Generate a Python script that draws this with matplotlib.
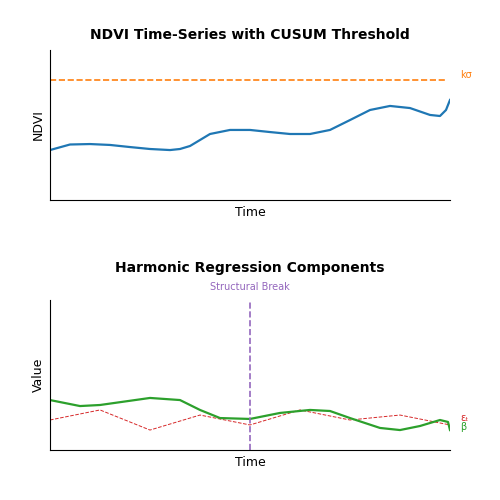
import numpy as np
import matplotlib
matplotlib.use('Agg')
import matplotlib.pyplot as plt

# top panel: NDVI series
t_ndvi = [0, .05, .1, .15, .2, .25, .3, .325, .35, .375, .4, .45, .5, .55, .6, .65,
          .7, .75, .8, .85, .9, .95, .975, .99, 1.0]
ndvi = [.333, .37, .373, .367, .353, .34, .333, .34, .36, .40, .44, .467, .467, .453,
        .44, .44, .467, .533, .60, .627, .613, .567, .56, .60, .667]
k_sigma = 0.8

# bottom panel: harmonic components
t_beta = [0, .075, .125, .25, .325, .375, .425, .5, .575, .65, .7, .75, .825, .875,
          .925, .975, .995, 1.0]
beta = [.333, .293, .30, .347, .333, .267, .213, .207, .247, .267, .26, .213, .147,
        .133, .16, .20, .187, .133]
t_eps = [0, .125, .25, .375, .5, .625, .75, .875, 1.0]
eps = [.20, .267, .133, .233, .167, .267, .20, .233, .167]
break_t = 0.5

fig = plt.figure(figsize=(5, 5), dpi=100)
ax1 = fig.add_axes([0.10, 0.60, 0.80, 0.30])
ax2 = fig.add_axes([0.10, 0.10, 0.80, 0.30])

ax1.plot(t_ndvi, ndvi, color='#1f77b4', lw=1.6)
ax1.axhline(k_sigma, color='#ff7f0e', ls='--', lw=1.2, xmax=0.99)
ax1.text(1.025, k_sigma, 'kσ', color='#ff7f0e', fontsize=7, va='bottom')
ax1.set_title('NDVI Time-Series with CUSUM Threshold', fontsize=10, fontweight='bold', pad=8)
ax1.set_xlabel('Time', fontsize=9)
ax1.set_ylabel('NDVI', fontsize=9)

ax2.plot(t_eps, eps, color='#d62728', ls='--', lw=0.7)
ax2.plot(t_beta, beta, color='#2ca02c', lw=1.6)
ax2.axvline(break_t, color='#9467bd', ls='--', lw=1.2)
ax2.text(break_t, 1.05, 'Structural Break', color='#9467bd', fontsize=7,
         ha='center', va='bottom', transform=ax2.get_xaxis_transform())
ax2.text(1.025, eps[-1] + 0.01, 'εₜ', color='#d62728', fontsize=7, va='bottom')
ax2.text(1.025, beta[-1] + 0.02, 'β', color='#2ca02c', fontsize=7, va='center')
ax2.set_title('Harmonic Regression Components', fontsize=10, fontweight='bold', pad=20)
ax2.set_xlabel('Time', fontsize=9)
ax2.set_ylabel('Value', fontsize=9)

for ax in (ax1, ax2):
    ax.set_xlim(0, 1)
    ax.set_ylim(0, 1)
    ax.set_xticks([])
    ax.set_yticks([])
    ax.spines['top'].set_visible(False)
    ax.spines['right'].set_visible(False)

fig.savefig('out.png', dpi=100)
